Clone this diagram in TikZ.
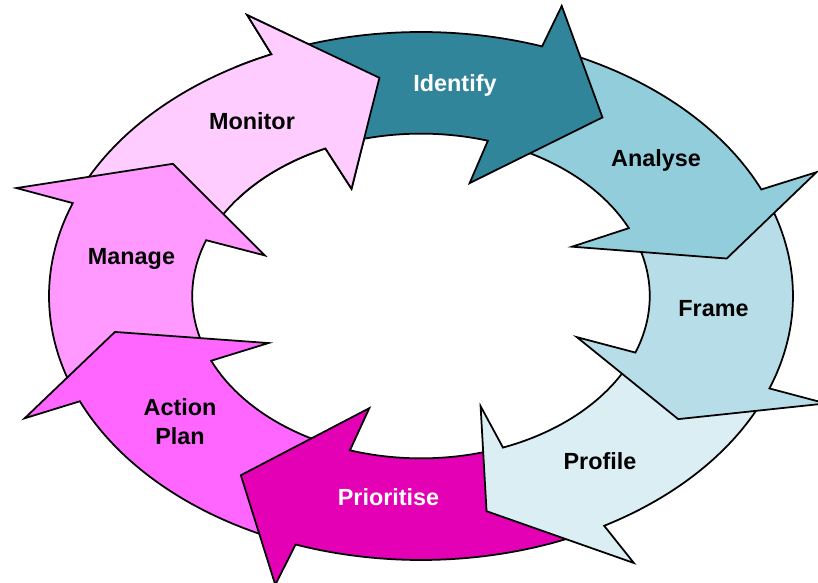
\documentclass[tikz,border=0pt]{standalone}
\usepackage{fontspec}
\setmainfont{Liberation Sans}
\usepackage{tikz}

\definecolor{identifycol}{RGB}{49,133,155}
\definecolor{analysecol}{RGB}{146,205,220}
\definecolor{framecol}{RGB}{183,222,232}
\definecolor{profilecol}{RGB}{219,238,243}
\definecolor{prioritisecol}{RGB}{228,0,180}
\definecolor{actionplancol}{RGB}{255,102,255}
\definecolor{managecol}{RGB}{255,153,255}
\definecolor{monitorcol}{RGB}{255,204,255}

% ring radii
\newcommand{\outerx}{7.44}
\newcommand{\outery}{5.28}
\newcommand{\innerx}{4.5756}
\newcommand{\innery}{3.2472}
\newcommand{\barbout}{1.162}
\newcommand{\barbin}{0.447}
\newcommand{\tipat}{0.834}

% #1/#2 tail angle (outer/inner), #3/#4 head base angle (outer/inner), #5 tip angle, #6 fill
\newcommand{\ringarrow}[6]{%
  \filldraw[ring arrow, fill=#6]
    ({\outerx*cos(#1)},{\outery*sin(#1)})
      arc[start angle=#1, end angle=#3, x radius=\outerx, y radius=\outery]
    -- ({\barbout*\outerx*cos(#3)},{\barbout*\outery*sin(#3)})
    -- ({\tipat*\outerx*cos(#5)},{\tipat*\outery*sin(#5)})
    -- ({\barbin*\outerx*cos(#4)},{\barbin*\outery*sin(#4)})
    -- ({\innerx*cos(#4)},{\innery*sin(#4)})
      arc[start angle=#4, end angle=#2, x radius=\innerx, y radius=\innery]
    -- cycle;}

\begin{document}
\begin{tikzpicture}[
			ring arrow/.style={draw=black, line width=1pt, line join=miter},
			step label/.style={font=\fontsize{13.3}{16}\selectfont\bfseries, anchor=base, align=center},
		]

			\useasboundingbox (-8.42,-5.74) rectangle (7.94,5.92);

			% each head lies over the tail of the next one
			\ringarrow{-205}{-205}{-246.3}{-245.3}{-262.3}{monitorcol}
			\ringarrow{-160}{-160}{-200.6}{-200.1}{-216.9}{managecol}
			\ringarrow{-113}{-113.1}{-156.5}{-156.5}{-170.6}{actionplancol}
			\ringarrow{-64}{-70}{-109.7}{-108.1}{-125.5}{prioritisecol}
			\ringarrow{-23}{-23}{-60.5}{-69}{-77.8}{profilecol}
			\ringarrow{18.8}{19.7}{-20.5}{-20.4}{-34}{framecol}
			\ringarrow{66}{68}{23.8}{24.7}{9.8}{analysecol}
			\ringarrow{108.7}{109.7}{71}{73}{54.2}{identifycol}

			% monitor head again, over the tail of identify
			\begin{scope}
				\clip (-3.72,1.92) rectangle (-0.42,5.92);
				\ringarrow{-205}{-205}{-246.3}{-245.3}{-262.3}{monitorcol}
			\end{scope}

			\node[step label, text=white] (identify) at (0.68,4.08) {Identify};
			\node[step label] (analyse) at (4.70,2.58) {Analyse};
			\node[step label] (frame) at (5.85,-0.41) {Frame};
			\node[step label] (profile) at (3.58,-3.46) {Profile};
			\node[step label, text=white] (prioritise) at (-0.65,-4.20) {Prioritise};
			\node[step label] (actionplan) at (-4.82,-2.96) {Action\\Plan};
			\node[step label] (manage) at (-5.79,0.62) {Manage};
			\node[step label] (monitor) at (-3.38,3.32) {Monitor};

		\end{tikzpicture}
\end{document}
